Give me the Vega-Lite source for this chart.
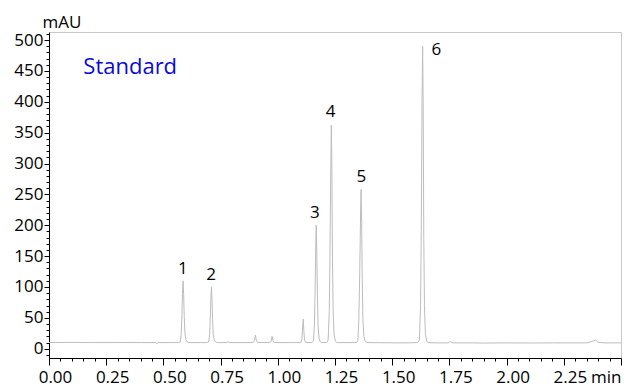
{
  "$schema": "https://vega.github.io/schema/vega-lite/v6.json",
  "width": 572,
  "height": 326,
  "autosize": {"type": "none"},
  "padding": {"left": 49, "top": 32, "right": 16, "bottom": 29},
  "background": "white",
  "config": {
    "view": {"stroke": "#c8c8c8", "strokeWidth": 1},
    "font": "Open Sans"
  },
  "datasets": {
    "trace": [
      {"t": 0.0, "v": 10}, {"t": 0.1, "v": 10.2}, {"t": 0.2, "v": 10}, {"t": 0.3, "v": 10.1}, {"t": 0.4, "v": 10}, {"t": 0.45, "v": 10},
      {"t": 0.466, "v": 10}, {"t": 0.472, "v": 8.3}, {"t": 0.478, "v": 10}, {"t": 0.55, "v": 10},
      {"t": 0.566, "v": 10}, {"t": 0.574, "v": 11}, {"t": 0.578, "v": 25}, {"t": 0.581, "v": 55}, {"t": 0.5835, "v": 90}, {"t": 0.586, "v": 110}, {"t": 0.5885, "v": 88}, {"t": 0.591, "v": 52}, {"t": 0.594, "v": 25}, {"t": 0.598, "v": 15}, {"t": 0.604, "v": 11}, {"t": 0.611, "v": 10},
      {"t": 0.69, "v": 10}, {"t": 0.698, "v": 11}, {"t": 0.702, "v": 23}, {"t": 0.705, "v": 50}, {"t": 0.7075, "v": 82}, {"t": 0.71, "v": 100}, {"t": 0.7125, "v": 80}, {"t": 0.715, "v": 47}, {"t": 0.718, "v": 23}, {"t": 0.722, "v": 14}, {"t": 0.728, "v": 11}, {"t": 0.735, "v": 10},
      {"t": 0.776, "v": 10}, {"t": 0.782, "v": 11.5}, {"t": 0.788, "v": 10},
      {"t": 0.892, "v": 10}, {"t": 0.898, "v": 13}, {"t": 0.902, "v": 22}, {"t": 0.906, "v": 14}, {"t": 0.912, "v": 10},
      {"t": 0.965, "v": 10}, {"t": 0.971, "v": 12.5}, {"t": 0.975, "v": 20}, {"t": 0.979, "v": 13}, {"t": 0.985, "v": 10},
      {"t": 1.05, "v": 10}, {"t": 1.1, "v": 10}, {"t": 1.105, "v": 14}, {"t": 1.108, "v": 30}, {"t": 1.111, "v": 48}, {"t": 1.114, "v": 28}, {"t": 1.117, "v": 14}, {"t": 1.122, "v": 10},
      {"t": 1.15, "v": 10}, {"t": 1.156, "v": 13}, {"t": 1.16, "v": 40}, {"t": 1.163, "v": 95}, {"t": 1.1655, "v": 160}, {"t": 1.168, "v": 200}, {"t": 1.1705, "v": 155}, {"t": 1.173, "v": 88}, {"t": 1.176, "v": 38}, {"t": 1.18, "v": 17}, {"t": 1.186, "v": 11}, {"t": 1.192, "v": 10},
      {"t": 1.214, "v": 10}, {"t": 1.22, "v": 14}, {"t": 1.225, "v": 60}, {"t": 1.228, "v": 150}, {"t": 1.2315, "v": 290}, {"t": 1.234, "v": 362}, {"t": 1.2365, "v": 285}, {"t": 1.239, "v": 145}, {"t": 1.242, "v": 60}, {"t": 1.246, "v": 22}, {"t": 1.252, "v": 12}, {"t": 1.258, "v": 10},
      {"t": 1.344, "v": 10}, {"t": 1.35, "v": 13}, {"t": 1.354, "v": 45}, {"t": 1.358, "v": 120}, {"t": 1.3615, "v": 210}, {"t": 1.364, "v": 258}, {"t": 1.3665, "v": 205}, {"t": 1.369, "v": 112}, {"t": 1.372, "v": 48}, {"t": 1.376, "v": 20}, {"t": 1.382, "v": 12}, {"t": 1.39, "v": 10},
      {"t": 1.45, "v": 9.8}, {"t": 1.52, "v": 9.5}, {"t": 1.58, "v": 9.6}, {"t": 1.612, "v": 10},
      {"t": 1.619, "v": 14}, {"t": 1.624, "v": 70}, {"t": 1.627, "v": 190}, {"t": 1.6305, "v": 400}, {"t": 1.633, "v": 490}, {"t": 1.6355, "v": 390}, {"t": 1.638, "v": 180}, {"t": 1.641, "v": 70}, {"t": 1.645, "v": 25}, {"t": 1.651, "v": 12}, {"t": 1.66, "v": 10},
      {"t": 1.7, "v": 9.5}, {"t": 1.745, "v": 9.5}, {"t": 1.755, "v": 11.5}, {"t": 1.765, "v": 9.5}, {"t": 1.85, "v": 9.5}, {"t": 1.9, "v": 9.2}, {"t": 2.0, "v": 9.5}, {"t": 2.1, "v": 9.3}, {"t": 2.2, "v": 9.5}, {"t": 2.35, "v": 9.5},
      {"t": 2.375, "v": 12}, {"t": 2.388, "v": 14}, {"t": 2.4, "v": 10.5}, {"t": 2.43, "v": 9.5}, {"t": 2.5, "v": 9.5}
    ],
    "peaks": [
      {"t": 0.585, "v": 120.4, "label": "1"},
      {"t": 0.709, "v": 111.4, "label": "2"},
      {"t": 1.162, "v": 212.3, "label": "3"},
      {"t": 1.231, "v": 376, "label": "4"},
      {"t": 1.365, "v": 270.7, "label": "5"},
      {"t": 1.693, "v": 475.5, "label": "6"}
    ],
    "sample": [
      {"t": 0.15, "v": 444.5, "label": "Standard"}
    ]
  },
  "layer": [
    {
      "data": {"name": "trace"},
      "mark": {"type": "line", "color": "#bdbdbd", "strokeWidth": 1, "clip": true},
      "encoding": {
        "x": {
          "field": "t", "type": "quantitative",
          "scale": {"domain": [0, 2.5], "nice": false, "zero": false},
          "axis": {
            "title": "min",
            "titleFont": "Open Sans", "titleFontSize": 17, "titleFontWeight": "normal", "titleColor": "#000",
            "titleAlign": "right", "titleBaseline": "alphabetic", "titleX": 572, "titleY": 24, "titleAnchor": null,
            "tickCount": 500,
            "values": [0,0.05,0.1,0.15,0.2,0.25,0.3,0.35,0.4,0.45,0.5,0.55,0.6,0.65,0.7,0.75,0.8,0.85,0.9,0.95,1,1.05,1.1,1.15,1.2,1.25,1.3,1.35,1.4,1.45,1.5,1.55,1.6,1.65,1.7,1.75,1.8,1.85,1.9,1.95,2,2.05,2.1,2.15,2.2,2.25,2.3,2.35,2.4,2.45,2.5],
            "labelExpr": "(abs(datum.value*4 - round(datum.value*4)) < 0.001 && datum.value < 2.4) ? format(datum.value, '.2f') : ''",
            "labelFont": "Open Sans", "labelFontSize": 17, "labelColor": "#000",
            "labelBaseline": "alphabetic", "labelPadding": 17, "labelOffset": 6,
            "labelOverlap": false, "labelFlush": false,
            "grid": false, "domainColor": "#000", "domainWidth": 1,
            "tickColor": "#000", "tickWidth": 1,
            "tickSize": {"condition": {"test": "abs(datum.value*4 - round(datum.value*4)) < 0.001", "value": 7}, "value": 3}
          }
        },
        "y": {
          "field": "v", "type": "quantitative",
          "scale": {"domain": [-15, 513], "nice": false, "zero": false},
          "axis": {
            "title": "mAU",
            "titleFont": "Open Sans", "titleFontSize": 17, "titleFontWeight": "normal", "titleColor": "#000",
            "titleAngle": 0, "titleAlign": "center", "titleBaseline": "alphabetic", "titleX": 12.5, "titleY": -4.5, "titleAnchor": null,
            "tickCount": 500,
            "values": [-10,0,10,20,30,40,50,60,70,80,90,100,110,120,130,140,150,160,170,180,190,200,210,220,230,240,250,260,270,280,290,300,310,320,330,340,350,360,370,380,390,400,410,420,430,440,450,460,470,480,490,500,510],
            "labelExpr": "(datum.value % 50 === 0 && datum.value >= 0 && datum.value <= 500) ? datum.label : ''",
            "format": "d",
            "labelFont": "Open Sans", "labelFontSize": 17, "labelColor": "#000",
            "labelPadding": 1, "labelOverlap": false, "labelFlush": false,
            "grid": false, "domainColor": "#000", "domainWidth": 1,
            "tickColor": "#000", "tickWidth": 1,
            "tickSize": {"condition": {"test": "datum.value % 50 === 0", "value": 5}, "value": 3}
          }
        }
      }
    },
    {
      "data": {"name": "peaks"},
      "mark": {"type": "text", "font": "Open Sans", "fontSize": 17, "color": "#000", "align": "center", "baseline": "alphabetic"},
      "encoding": {
        "x": {"field": "t", "type": "quantitative"},
        "y": {"field": "v", "type": "quantitative"},
        "text": {"field": "label"}
      }
    },
    {
      "data": {"name": "sample"},
      "mark": {"type": "text", "font": "Open Sans", "fontSize": 22, "color": "#0a0ad8", "align": "left", "baseline": "alphabetic"},
      "encoding": {
        "x": {"field": "t", "type": "quantitative"},
        "y": {"field": "v", "type": "quantitative"},
        "text": {"field": "label"}
      }
    }
  ]
}
